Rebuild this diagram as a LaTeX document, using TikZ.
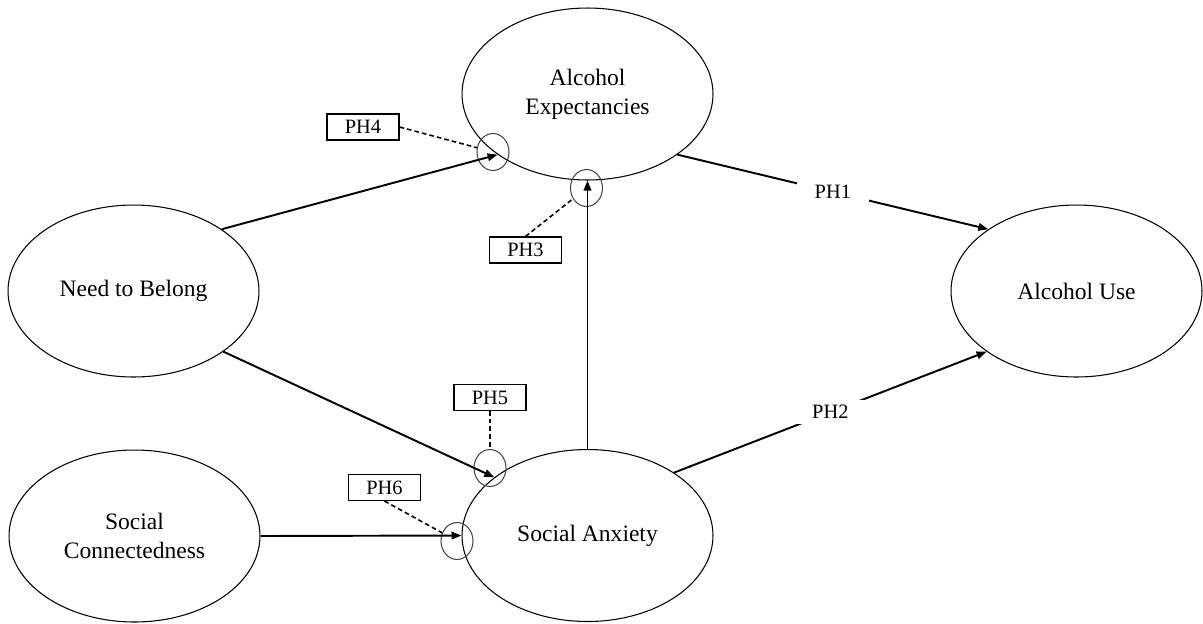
\documentclass[tikz,border=0pt]{standalone}
\usepackage{fontspec}
\setmainfont{Liberation Serif}
\usepackage{tikz}
\usetikzlibrary{arrows.meta,shapes.geometric,positioning}
\definecolor{ink}{RGB}{0,0,0}
\definecolor{ringgray}{RGB}{70,70,70}
\tikzset{
  construct/.style={ellipse,draw=ink,line width=0.6pt,minimum width=5.02cm,minimum height=3.44cm,
    inner sep=0pt,align=center,font=\fontsize{13.4}{16.5}\selectfont},
  hyp/.style={draw=ink,line width=0.6pt,minimum width=1.44cm,minimum height=0.52cm,inner sep=0pt,
    font=\fontsize{11.6}{13}\selectfont},
  modring/.style={ellipse,draw=ringgray,line width=0.6pt,minimum width=0.64cm,minimum height=0.74cm,inner sep=0pt},
  arr/.style={-{Triangle[length=2mm,width=1.5mm]},line width=1.1pt,ink},
  dsh/.style={dash pattern=on 2.6pt off 1.8pt,line width=0.9pt,ink},
  pathlbl/.style={fill=white,inner xsep=0.36cm,inner ysep=3pt,font=\fontsize{11.6}{13}\selectfont},
}

\begin{document}
\begin{tikzpicture}[x=0.02cm,y=-0.02cm]
  \useasboundingbox (0,0) rectangle (1203,623);
  \node[construct] (AE) at (587.5,94) {Alcohol\\Expectancies};
  \node[construct] (NB) at (133.5,291) {Need to Belong};
  \node[construct] (SC) at (134.5,536) {Social\\Connectedness};
  \node[construct] (SA) at (587.5,535.5) {Social Anxiety};
  \node[construct] (AU) at (1076.5,291) {Alcohol Use};
  \node[modring] (m4) at (493,152) {};
  \node[modring] (m3) at (586.5,188) {};
  \node[modring] (m5) at (490,468) {};
  \node[modring] (m6) at (457,541) {};
  \node[hyp] (h4) at (363,127) {PH4};
  \node[hyp] (h3) at (525.5,250) {PH3};
  \node[hyp] (h5) at (490,397.5) {PH5};
  \node[hyp] (h6) at (384.5,487.5) {PH6};
  \draw[arr] (NB.35) -- (AE.214);
  \draw[arr] (NB.326) -- (SA.148);
  \draw[arr] (SC.east) -- (SA.west);
  \draw[arr] (SA.north) -- (AE.south);
  \draw[arr] (AE.326) -- node[pathlbl]{PH1} (AU.145);
  \draw[arr] (SA.36) -- node[pathlbl]{PH2} (AU.214);
  \draw[dsh] (h4.east) -- (m4);
  \draw[dsh] (h3.north) -- (m3);
  \draw[dsh] (h5.south) -- (m5);
  \draw[dsh] (h6.south) -- (m6);
\end{tikzpicture}
\end{document}
